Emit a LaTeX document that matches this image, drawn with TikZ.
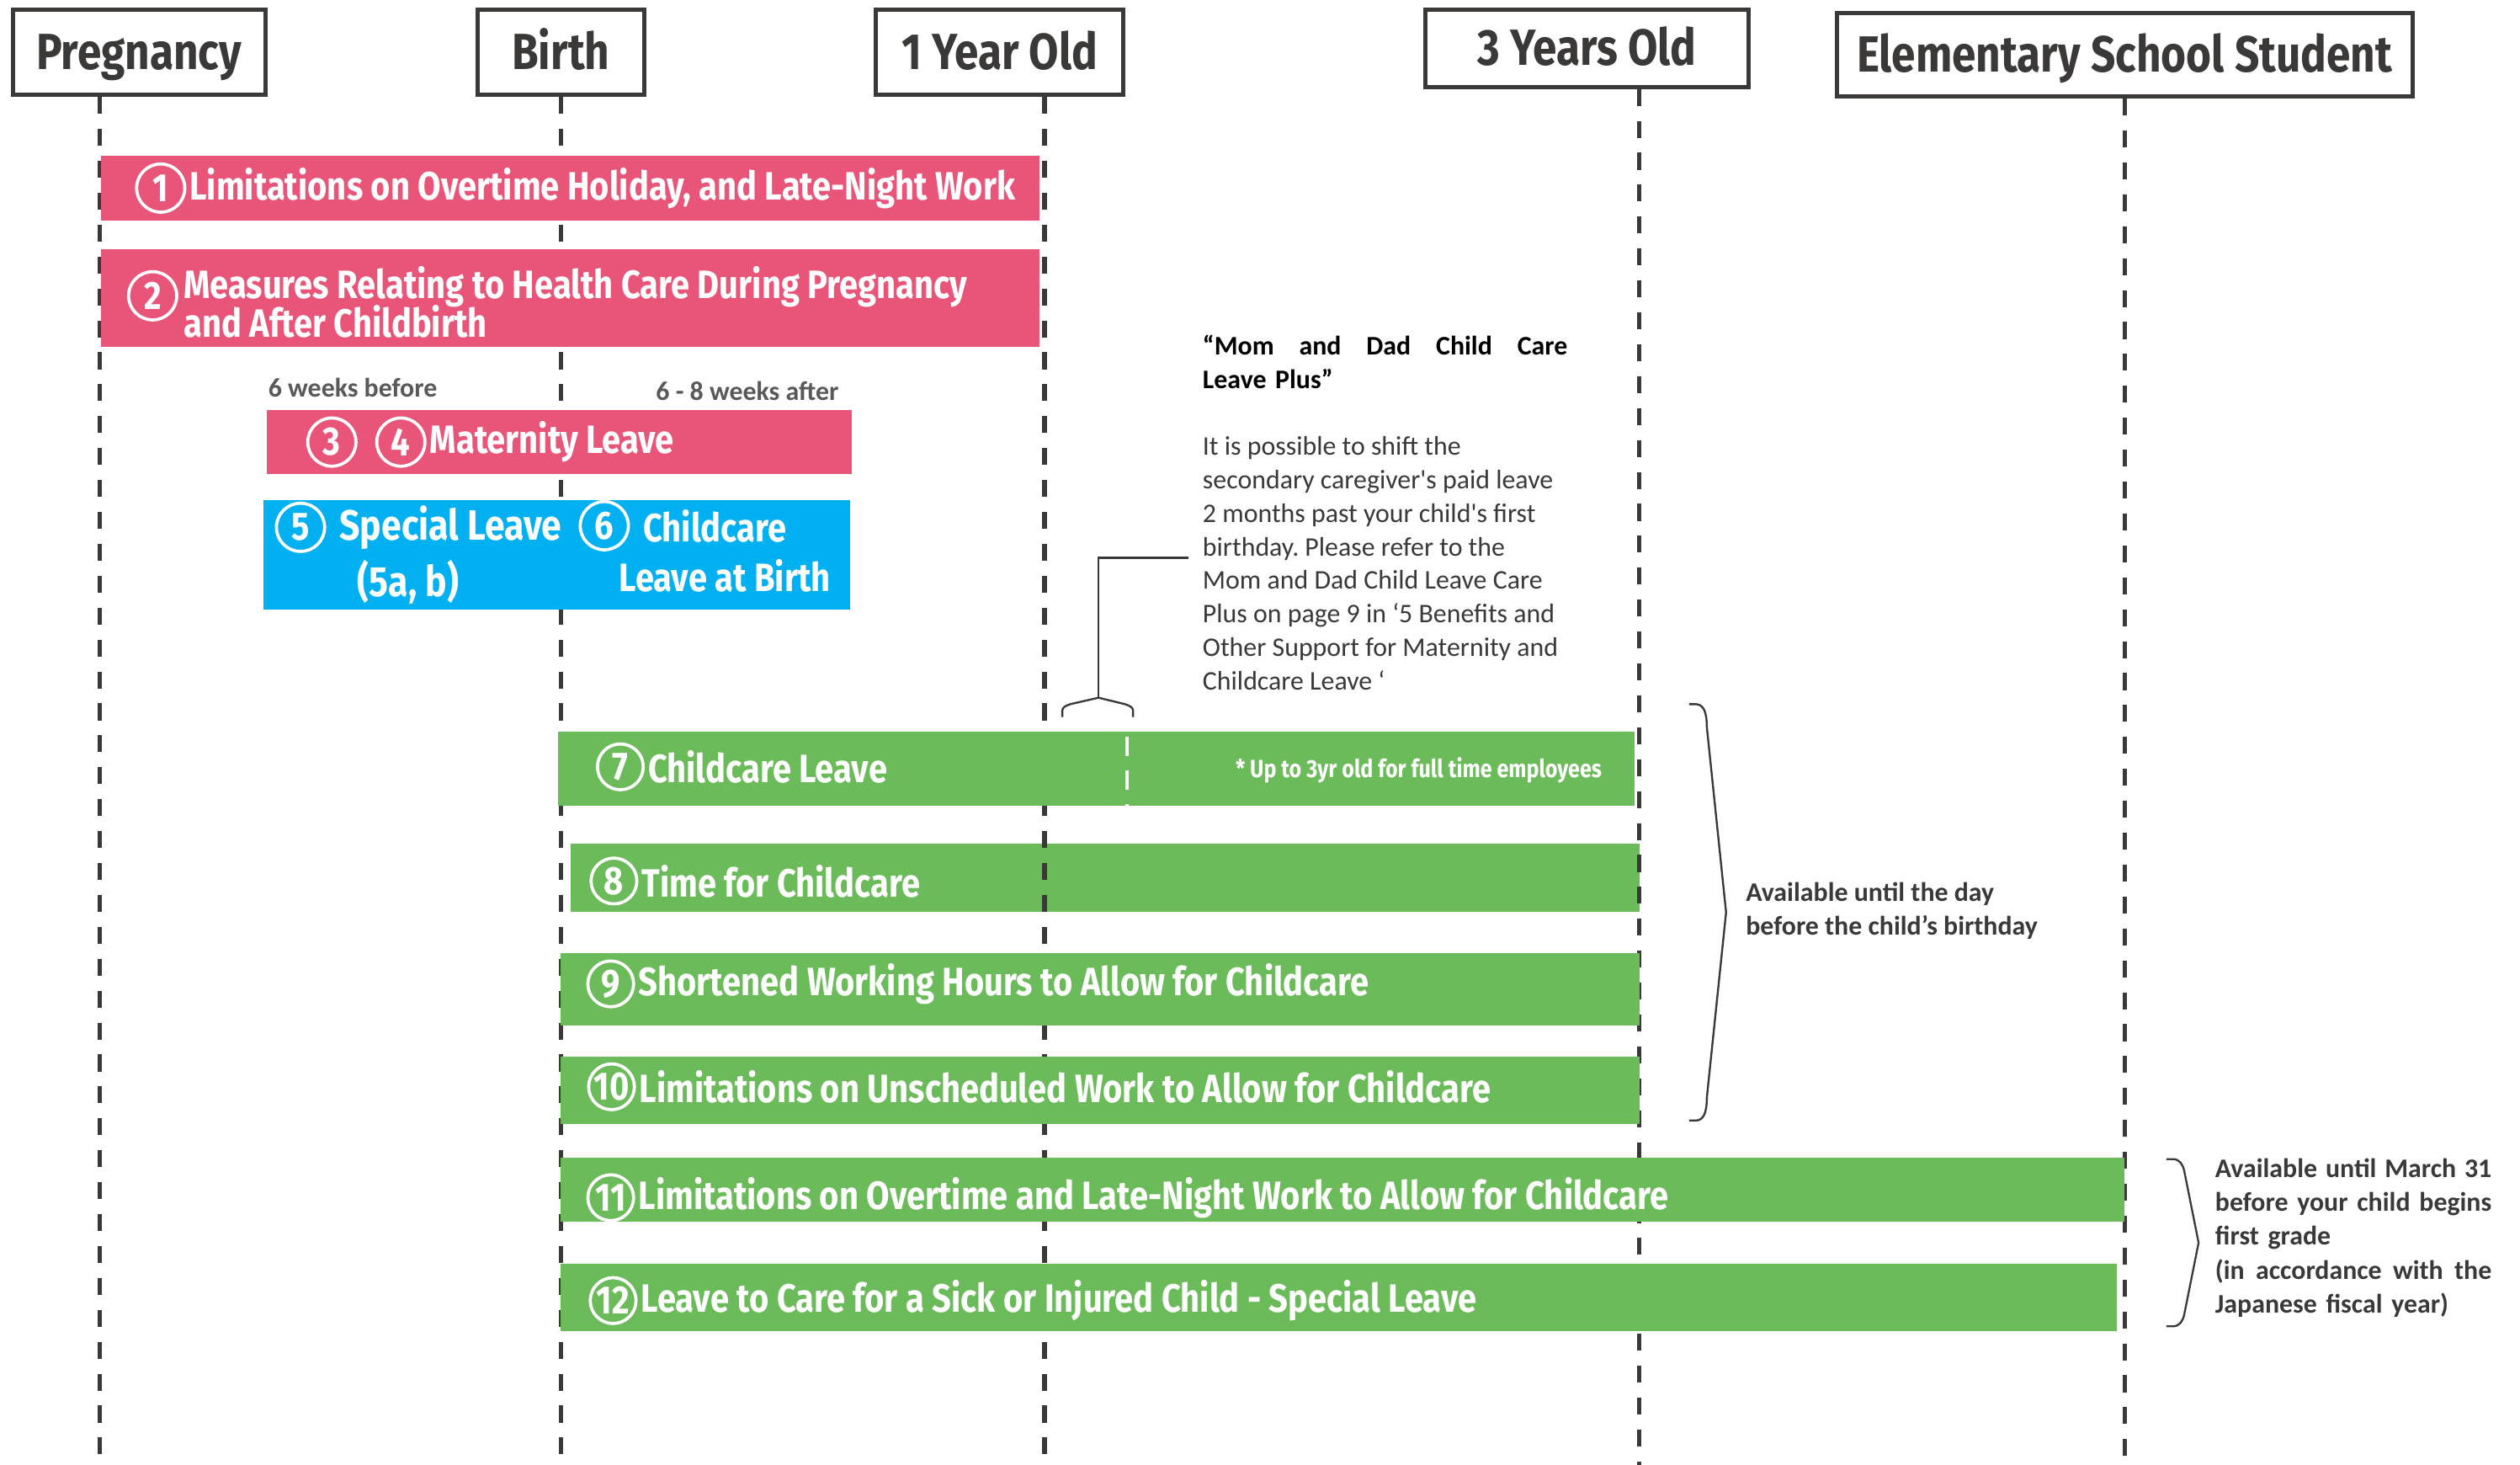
\documentclass[tikz,border=0pt]{standalone}
\usepackage{fontspec}
\setmainfont{Carlito}
\newfontfamily\condfont[FakeStretch=0.85]{Fira Sans}
\newcommand{\tightlines}{\lineskiplimit -5pt\relax}
\usetikzlibrary{positioning}

\definecolor{barpink}{HTML}{E85579}
\definecolor{barblue}{HTML}{00B0F0}
\definecolor{bargreen}{HTML}{6CBB5A}
\definecolor{inkgray}{HTML}{3B3838}
\definecolor{notegray}{HTML}{595959}

\tikzset{
  hbox/.style={draw=inkgray, line width=1.5pt, fill=white, text=inkgray, inner sep=0pt,
    text height=12.5pt, text depth=0.5pt,
    font=\condfont\bfseries\fontsize{18}{20}\selectfont},
  tline/.style={draw=inkgray, line width=1.6pt, dash pattern=on 6pt off 5.3pt},
  bartxt/.style={text=white, inner sep=0pt, anchor=west,
    font=\condfont\bfseries\fontsize{14}{13.7}\selectfont\tightlines},
  bigtxt/.style={bartxt, font=\condfont\bfseries\fontsize{15}{16}\selectfont},
  numc/.style={circle, draw=white, line width=1.1pt, text=white, inner sep=0pt,
    minimum size=0.6cm, font=\condfont\bfseries\fontsize{14}{14}\selectfont},
  smalltxt/.style={text=white, inner sep=0pt, font=\condfont\bfseries\fontsize{8.8}{9}\selectfont},
  weektxt/.style={text=notegray, inner sep=0pt, font=\bfseries\fontsize{9.5}{11}\selectfont},
  notehead/.style={text=black, inner sep=0pt, align=left, font=\bfseries\fontsize{9.5}{11.9}\selectfont},
  notebody/.style={text=inkgray, inner sep=0pt, align=left, font=\frenchspacing\fontsize{9.5}{11.9}\selectfont},
  availtxt/.style={text=inkgray, inner sep=0pt, align=left, font=\bfseries\fontsize{9.5}{12}\selectfont},
  conn/.style={draw=inkgray, line width=0.7pt},
}

\begin{document}
\begin{tikzpicture}[x=0.02cm, y=-0.02cm]

  % Page
  \fill[white] (0,0) rectangle (1568,911);
  \useasboundingbox (0,0) rectangle (1568,911);

  % Stage boxes
  \node[hbox, minimum width=3.14cm, minimum height=1.06cm] (hPreg)  at (86.5,32.5) {Pregnancy};
  \node[hbox, minimum width=2.08cm, minimum height=1.06cm] (hBirth) at (349,32.5)  {Birth};
  \node[hbox, minimum width=3.08cm, minimum height=1.06cm] (hOne)   at (622,32.5)  {1 Year Old};
  \node[hbox, minimum width=4.02cm, minimum height=0.96cm] (hThree) at (987.5,30)  {3 Years Old};
  \node[hbox, minimum width=7.16cm, minimum height=1.04cm] (hElem)  at (1322,34)   {Elementary School Student};

  % Bar 8 sits under the time lines
  \fill[bargreen] (355,525) rectangle (1020,567);

  % Time lines
  \coordinate (bPreg)  at (62,911);
  \coordinate (bBirth) at (349,911);
  \coordinate (bOne)   at (650,911);
  \coordinate (bThree) at (1020,911);
  \coordinate (bElem)  at (1322,911);
  \draw[tline] (hPreg.south -| bPreg)   -- (bPreg);
  \draw[tline] (hBirth.south -| bBirth) -- (bBirth);
  \draw[tline] (hOne.south -| bOne)     -- (bOne);
  \draw[tline] (hThree.south -| bThree) -- (bThree);
  \draw[tline] (hElem.south -| bElem)   -- (bElem);

  % Pregnancy / birth bars
  \fill[barpink] (63,97)   rectangle (647,137);
  \fill[barpink] (63,155)  rectangle (647,216);
  \fill[barpink] (166,255) rectangle (530,295);
  \fill[barblue] (164,311) rectangle (529,379);

  % Childcare bars
  \fill[bargreen] (347,455) rectangle (1017,501);
  \fill[bargreen] (349,593) rectangle (1020,638);
  \fill[bargreen] (349,657) rectangle (1020,699);
  \fill[bargreen] (349,720) rectangle (1322,760);
  \fill[bargreen] (349,786) rectangle (1317,828);
  \draw[white, line width=1.2pt, dash pattern=on 7pt off 5pt] (701,458) -- (701,501);

  % Bar labels
  \node[numc] (n1) at (100,117) {1};
  \node[bartxt, right=1pt of n1] (t1) {Limitations on Overtime Holiday, and Late-Night Work};

  \node[numc] (n2) at (95,184) {2};
  \node[bartxt, align=left] (t2) at (114,188) {Measures Relating to Health Care During Pregnancy\\and After Childbirth};

  \node[weektxt] (wBefore) at (219.5,241) {6 weeks before};
  \node[weektxt] (wAfter)  at (465,243)   {6 - 8 weeks after};

  \node[numc] (n3) at (206.5,275) {3};
  \node[numc, right=0.22cm of n3] (n4) {4};
  \node[bartxt, right=1pt of n4] (t4) {Maternity Leave};

  \node[numc] (n5) at (187,328) {5};
  \node[bigtxt, right=0.16cm of n5] (t5) {Special Leave};
  \node[bigtxt, anchor=center] (t5b) at (254,362) {(5a, b)};
  \node[numc] (n6) at (376,327) {6};
  \node[bartxt, right=0.16cm of n6] (t6) {Childcare};
  \node[bartxt, anchor=center] (t6b) at (451,358) {Leave at Birth};

  \node[numc, minimum size=0.57cm] (n7) at (386,477) {7};
  \node[bartxt, right=1pt of n7] (t7) {Childcare Leave};
  \node[smalltxt, anchor=east] (t7b) at (997,479) {* Up to 3yr old for full time employees};

  \node[numc, minimum size=0.57cm] (n8) at (382,548) {8};
  \node[bartxt, right=1pt of n8] (t8) {Time for Childcare};

  \node[numc, minimum size=0.57cm] (n9) at (380,612) {9};
  \node[bartxt, right=1pt of n9] (t9) {Shortened Working Hours to Allow for Childcare};

  \node[numc, minimum size=0.57cm] (n10) at (380.5,676) {10};
  \node[bartxt, right=1pt of n10] (t10) {Limitations on Unscheduled Work to Allow for Childcare};

  \node[numc, minimum size=0.57cm] (n11) at (380,745) {11};
  \node[bartxt, right=1pt of n11] (t11) {Limitations on Overtime and Late-Night Work to Allow for Childcare};

  \node[numc, minimum size=0.57cm] (n12) at (381.5,809) {12};
  \node[bartxt, right=1pt of n12] (t12) {Leave to Care for a Sick or Injured Child - Special Leave};

  % Note on Mom and Dad Child Care Leave Plus
  \node[notehead, anchor=north west, text width=4.54cm] (noteHead) at (748,208)
    {“Mom\hfill and\hfill Dad\hfill Child\hfill Care\\Leave Plus”};
  \node[notebody, anchor=north west] (noteBody) at (748,271)
    {It is possible to shift the\\secondary caregiver\textquotesingle s paid leave\\2 months past your child\textquotesingle s first\\birthday. Please refer to the\\Mom and Dad Child Leave Care\\Plus on page 9 in ‘5 Benefits and\\Other Support for Maternity and\\Childcare Leave ‘};

  \coordinate (knee) at (683.5,347);
  \coordinate (bTip) at (683.5,434);
  \draw[conn] ([xshift=-5pt]noteBody.west |- knee) -- (knee) -- (bTip);
  \draw[conn] (661,446) -- (661,442) .. controls (661,440) and (663,439) .. (666,438)
    -- (bTip) -- (700,438) .. controls (703,439) and (705,440) .. (705,442) -- (705,446);

  % Right braces
  \draw[conn] (1051,438) -- (1055,438) .. controls (1060,438) and (1062,443) .. (1062,452)
    -- (1074,567.5) -- (1062,683) .. controls (1062,692) and (1060,697) .. (1055,697) -- (1051,697);
  \node[availtxt, anchor=west] (availA) at (1086,566.5)
    {Available until the day\\before the child’s birthday};

  \draw[conn] (1348,721) -- (1352,721) .. controls (1356,721) and (1358,724) .. (1359,728)
    -- (1368,773) -- (1359,818) .. controls (1358,822) and (1356,825) .. (1352,825) -- (1348,825);
  \node[availtxt, anchor=west, text width=3.44cm] (availB) at (1378,770)
    {Available\hfill until\hfill March\hfill 31\\before\hfill your\hfill child\hfill begins\\first grade\\(in\hfill accordance\hfill with\hfill the\\Japanese fiscal year)};

\end{tikzpicture}
\end{document}
